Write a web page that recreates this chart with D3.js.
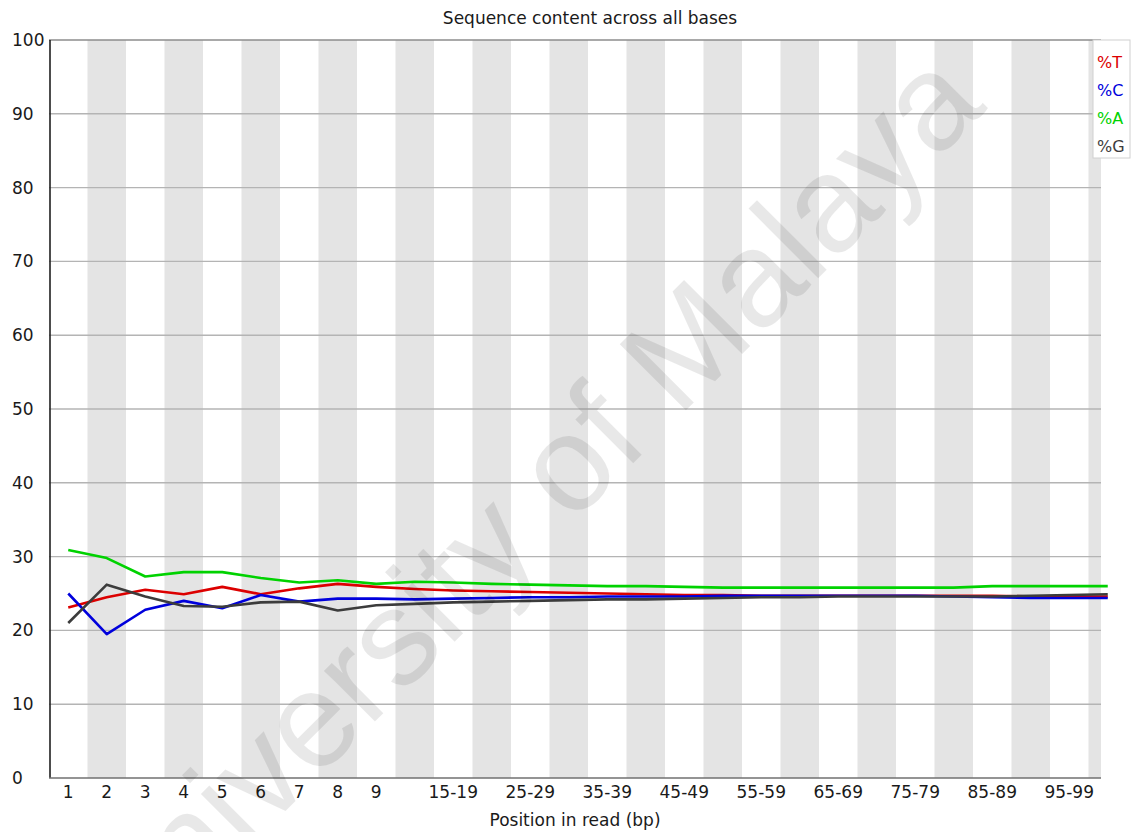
<!DOCTYPE html>
<html>
<head>
<meta charset="utf-8">
<script src="https://cdn.jsdelivr.net/npm/d3@7"></script>
<style>
  html, body { margin: 0; padding: 0; background: #fff; }
  svg { display: block; font-family: "DejaVu Sans", sans-serif; }
</style>
</head>
<body>
<svg id="chart" width="1144" height="832"></svg>
<script>
// Position groups along the read
const categories = ["1","2","3","4","5","6","7","8","9","10-14","15-19","20-24","25-29","30-34",
  "35-39","40-44","45-49","50-54","55-59","60-64","65-69","70-74","75-79","80-84","85-89",
  "90-94","95-99","100-101"];

// Labels that are printed under the axis
const xTickLabels = ["1","2","3","4","5","6","7","8","9","15-19","25-29","35-39","45-49",
  "55-59","65-69","75-79","85-89","95-99"];

const yTicks = [0,10,20,30,40,50,60,70,80,90,100];

// Percent of each base per position group
const pctT = [23.1,24.5,25.5,24.9,25.9,24.9,25.7,26.3,25.9,25.6,25.4,25.3,25.2,25.1,25.0,24.9,
  24.8,24.8,24.7,24.7,24.7,24.7,24.7,24.7,24.7,24.6,24.6,24.6];
const pctC = [25.0,19.5,22.8,24.0,23.0,24.8,23.9,24.3,24.3,24.2,24.3,24.4,24.5,24.5,24.6,24.6,
  24.6,24.7,24.7,24.7,24.7,24.7,24.7,24.6,24.5,24.4,24.4,24.4];
const pctA = [30.9,29.8,27.3,27.9,27.9,27.1,26.5,26.8,26.3,26.6,26.5,26.3,26.2,26.1,26.0,26.0,
  25.9,25.8,25.8,25.8,25.8,25.8,25.8,25.8,26.0,26.0,26.0,26.0];
const pctG = [21.0,26.2,24.6,23.3,23.2,23.8,23.9,22.7,23.4,23.6,23.8,23.9,24.0,24.1,24.2,24.2,
  24.3,24.4,24.5,24.5,24.6,24.6,24.6,24.6,24.6,24.7,24.8,24.9];

const seriesNames = ["%T","%C","%A","%G"];
const seriesColors = ["#dc0000","#0000dc","#00d200","#3c3c3c"];
const seriesValues = [pctT, pctC, pctA, pctG];

const svg = d3.select("#chart");
const plotLeft = 49, plotTop = 40, plotBottom = 778, plotRightClip = 1101;

const x = d3.scaleBand().domain(categories).range([plotLeft, plotLeft + 38.5 * categories.length]).padding(0);
const y = d3.scaleLinear().domain([0, 100]).range([plotBottom, plotTop]);

svg.append("defs").append("clipPath").attr("id", "plotClip")
  .append("rect").attr("x", plotLeft).attr("y", plotTop)
  .attr("width", plotRightClip - plotLeft).attr("height", plotBottom - plotTop);

const plot = svg.append("g").attr("clip-path", "url(#plotClip)");

// Alternating shaded columns
plot.selectAll("rect.band")
  .data(categories.filter((d, i) => i % 2 === 1))
  .join("rect")
  .attr("class", "band")
  .attr("x", d => x(d))
  .attr("y", plotTop)
  .attr("width", x.bandwidth())
  .attr("height", plotBottom - plotTop)
  .attr("fill", "#e4e4e4");

// Horizontal grid lines
plot.selectAll("line.grid")
  .data(yTicks.filter(v => v > 0 && v < 100))
  .join("line")
  .attr("class", "grid")
  .attr("x1", plotLeft).attr("x2", plotRightClip)
  .attr("y1", d => y(d)).attr("y2", d => y(d))
  .attr("stroke", "#b4b4b4").attr("stroke-width", 1.4);

// Top frame line
svg.append("line")
  .attr("x1", plotLeft).attr("x2", plotRightClip)
  .attr("y1", y(100)).attr("y2", y(100))
  .attr("stroke", "#8c8c8c").attr("stroke-width", 1.4);

// Axes lines
svg.append("line")
  .attr("x1", plotLeft + 1).attr("x2", plotLeft + 1)
  .attr("y1", y(100)).attr("y2", y(0))
  .attr("stroke", "#202020").attr("stroke-width", 1.6);
svg.append("line")
  .attr("x1", plotLeft).attr("x2", plotRightClip)
  .attr("y1", y(0)).attr("y2", y(0))
  .attr("stroke", "#707070").attr("stroke-width", 1.6);

// Y tick labels
svg.selectAll("text.ytick")
  .data(yTicks)
  .join("text")
  .attr("class", "ytick")
  .attr("x", 12)
  .attr("y", d => y(d) + 6)
  .attr("font-size", 17)
  .attr("fill", "#1a1a1a")
  .text(d => d);

// X tick labels
svg.selectAll("text.xtick")
  .data(xTickLabels)
  .join("text")
  .attr("class", "xtick")
  .attr("x", d => x(d) + x.bandwidth() / 2)
  .attr("y", 798)
  .attr("text-anchor", "middle")
  .attr("font-size", 17)
  .attr("fill", "#1a1a1a")
  .text(d => d);

// Title and axis title
svg.append("text")
  .attr("x", 590).attr("y", 24)
  .attr("text-anchor", "middle")
  .attr("font-size", 17)
  .attr("fill", "#1a1a1a")
  .text("Sequence content across all bases");
svg.append("text")
  .attr("x", 575).attr("y", 826)
  .attr("text-anchor", "middle")
  .attr("font-size", 17)
  .attr("fill", "#1a1a1a")
  .text("Position in read (bp)");

// Base composition lines
const line = d3.line()
  .x((d, i) => x(categories[i]) + x.bandwidth() / 2)
  .y(d => y(d));

svg.selectAll("path.series")
  .data(seriesValues)
  .join("path")
  .attr("class", "series")
  .attr("d", d => line(d))
  .attr("fill", "none")
  .attr("stroke", (d, i) => seriesColors[i])
  .attr("stroke-width", 2.6)
  .attr("stroke-linejoin", "round");

// Legend
const legend = svg.append("g");
legend.append("rect")
  .attr("x", 1093).attr("y", 40).attr("width", 37).attr("height", 118)
  .attr("fill", "#fff").attr("stroke", "#d0d0d0");
legend.selectAll("text")
  .data(seriesNames)
  .join("text")
  .attr("x", 1097)
  .attr("y", (d, i) => 68 + i * 28)
  .attr("font-size", 16)
  .attr("fill", (d, i) => seriesColors[i])
  .text(d => d);

// Watermark
svg.append("text")
  .attr("transform", "translate(522,508) rotate(-45)")
  .attr("text-anchor", "middle")
  .attr("dominant-baseline", "central")
  .attr("font-family", "Liberation Sans, Arial, sans-serif")
  .attr("font-size", 136)
  .attr("fill", "#000")
  .attr("fill-opacity", 0.09)
  .text("University of Malaya");
</script>
</body>
</html>
